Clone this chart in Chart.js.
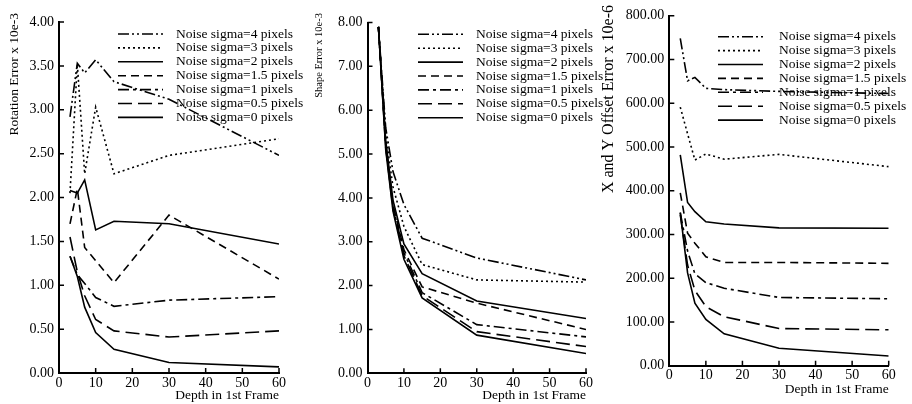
<!DOCTYPE html>
<html>
<head>
<meta charset="utf-8">
<script src="https://cdn.jsdelivr.net/npm/chart.js@4.4.1/dist/chart.umd.min.js"></script>
<style>
  html, body { margin: 0; background: #fff; }
  #wrap { position: relative; width: 912px; height: 404px; }
  #wrap canvas { position: absolute; left: 0; top: 0; }
</style>
</head>
<body>
<div id="wrap">
  <canvas id="rotation" width="912" height="404"></canvas>
  <canvas id="shape" width="912" height="404"></canvas>
  <canvas id="offset" width="912" height="404"></canvas>
</div>
<script>
const depths = [3, 5, 7, 10, 15, 30, 60];
const depthTicks = [0, 10, 20, 30, 40, 50, 60];

const sigmaLabels = [
  "Noise sigma=4 pixels",
  "Noise sigma=3 pixels",
  "Noise sigma=2 pixels",
  "Noise sigma=1.5 pixels",
  "Noise sigma=1 pixels",
  "Noise sigma=0.5 pixels",
  "Noise sigma=0 pixels",
];

// rotation error, x 10e-3
const rotationSigma4 = [2.92, 3.53, 3.42, 3.57, 3.32, 3.12, 2.48];
const rotationSigma3 = [2.05, 3.52, 2.27, 3.03, 2.27, 2.48, 2.67];
const rotationSigma2 = [2.08, 2.05, 2.2, 1.63, 1.73, 1.7, 1.47];
const rotationSigma15 = [1.7, 2.1, 1.43, 1.28, 1.03, 1.8, 1.07];
const rotationSigma1 = [1.33, 1.12, 1.02, 0.86, 0.76, 0.83, 0.87];
const rotationSigma05 = [1.55, 1.15, 0.88, 0.61, 0.48, 0.41, 0.48];
const rotationSigma0 = [1.33, 1.1, 0.75, 0.46, 0.27, 0.12, 0.07];
const rotationTicks = [0, 0.5, 1, 1.5, 2, 2.5, 3, 3.5, 4];

// shape error, x 10e-3
const shapeSigma4 = [7.9, 5.6, 4.6, 3.85, 3.08, 2.63, 2.13];
const shapeSigma3 = [7.9, 5.45, 4.25, 3.35, 2.48, 2.13, 2.08];
const shapeSigma2 = [7.9, 5.3, 3.95, 2.95, 2.27, 1.65, 1.25];
const shapeSigma15 = [7.9, 5.25, 3.85, 2.82, 1.97, 1.6, 1.0];
const shapeSigma1 = [7.9, 5.2, 3.8, 2.75, 1.84, 1.11, 0.83];
const shapeSigma05 = [7.9, 5.15, 3.75, 2.68, 1.77, 0.95, 0.61];
const shapeSigma0 = [7.9, 5.1, 3.7, 2.6, 1.72, 0.87, 0.45];
const shapeTicks = [0, 1, 2, 3, 4, 5, 6, 7, 8];

// x and y offset error, x 10e-6
const offsetSigma4 = [748, 651, 659, 634, 631, 627, 622];
const offsetSigma3 = [591, 530, 470, 484, 472, 483, 455];
const offsetSigma2 = [482, 373, 352, 329, 324, 315, 314];
const offsetSigma15 = [395, 303, 280, 249, 236, 236, 234];
const offsetSigma1 = [350, 262, 210, 190, 177, 156, 153];
const offsetSigma05 = [345, 230, 172, 135, 112, 85, 82];
const offsetSigma0 = [350, 212, 143, 106, 73, 40, 22];
const offsetTicks = [0, 100, 200, 300, 400, 500, 600, 700, 800];

// one dash pattern per noise level, same order as sigmaLabels
const DASHES = [
  [11, 3, 2, 3, 2, 3],
  [2, 3],
  [],
  [8, 5],
  [11, 4, 3, 4],
  [14, 6],
  [],
];

const FONT = "'Liberation Serif', 'Times New Roman', serif";
Chart.defaults.font.family = FONT;
Chart.defaults.color = "#000";

// small tick marks pointing into the plot
const inwardTicks = {
  id: "inwardTicks",
  afterDraw(chart) {
    const { ctx, chartArea: { left, bottom } } = chart;
    const { x, y } = chart.scales;
    ctx.save();
    ctx.strokeStyle = "#000";
    ctx.lineWidth = 1.5;
    ctx.beginPath();
    x.ticks.forEach(({ value }) => {
      if (value === x.min) return;
      const px = x.getPixelForValue(value);
      ctx.moveTo(px, bottom);
      ctx.lineTo(px, bottom - 5);
    });
    y.ticks.forEach(({ value }) => {
      if (value === y.min) return;
      const py = y.getPixelForValue(value);
      ctx.moveTo(left, py);
      ctx.lineTo(left + 5, py);
    });
    ctx.stroke();
    ctx.restore();
  },
};

// stacked key: line sample then label, one row per dataset
const lineKey = {
  id: "lineKey",
  afterDraw(chart, args, opts) {
    const { ctx } = chart;
    ctx.save();
    ctx.font = `${opts.size}px ${FONT}`;
    ctx.textBaseline = "middle";
    ctx.fillStyle = "#000";
    chart.data.datasets.forEach((ds, i) => {
      const y = opts.top + i * opts.rowHeight;
      ctx.setLineDash(ds.borderDash);
      ctx.lineWidth = ds.borderWidth;
      ctx.strokeStyle = ds.borderColor;
      ctx.beginPath();
      ctx.moveTo(opts.left, y);
      ctx.lineTo(opts.left + opts.sampleWidth, y);
      ctx.stroke();
      ctx.fillText(ds.label, opts.textLeft, y);
    });
    ctx.restore();
  },
};

// rotated y caption, anchored by its top end
const yCaption = {
  id: "yCaption",
  afterDraw(chart, args, opts) {
    const { ctx } = chart;
    ctx.save();
    ctx.translate(opts.x, opts.top);
    ctx.rotate(-Math.PI / 2);
    ctx.font = `${opts.size}px ${FONT}`;
    ctx.textAlign = "right";
    ctx.textBaseline = "middle";
    ctx.fillStyle = "#000";
    ctx.fillText(opts.text, 0, 0);
    ctx.restore();
  },
};

const makeChartConfig = ({
  series,
  yTicks,
  area,
  yWidth,
  padBottom = 0,
  caption,
  key,
}) => {
  const xHeight = 404 - area.bottom - padBottom;
  return {
    type: "line",
    data: {
      datasets: series.map((values, i) => ({
        label: sigmaLabels[i],
        data: depths.map((d, j) => ({ x: d, y: values[j] })),
        borderColor: "#000",
        borderWidth: 1.6,
        borderDash: DASHES[i],
        pointRadius: 0,
        tension: 0,
      })),
    },
    options: {
      responsive: false,
      animation: false,
      devicePixelRatio: 1,
      layout: {
        padding: {
          left: area.left - yWidth,
          top: area.top,
          right: 912 - area.right,
          bottom: padBottom,
        },
      },
      plugins: {
        legend: { display: false },
        tooltip: { enabled: false },
        yCaption: caption,
        lineKey: { sampleWidth: 45, rowHeight: 13.9, size: 13.5, ...key },
      },
      scales: {
        x: {
          type: "linear",
          min: 0,
          max: 60,
          afterBuildTicks: (scale) => {
            scale.ticks = depthTicks.map((value) => ({ value }));
          },
          afterFit: (scale) => {
            scale.height = xHeight;
          },
          grid: { display: false, drawTicks: false },
          border: { display: true, color: "#000", width: 2 },
          ticks: { font: { size: 14 }, padding: 1.5, maxRotation: 0, autoSkip: false },
          title: {
            display: true,
            text: "Depth in 1st Frame",
            align: "end",
            font: { size: 13.5 },
            padding: 0,
          },
        },
        y: {
          type: "linear",
          min: yTicks[0],
          max: yTicks[yTicks.length - 1],
          afterBuildTicks: (scale) => {
            scale.ticks = yTicks.map((value) => ({ value }));
          },
          afterFit: (scale) => {
            scale.width = yWidth;
          },
          grid: { display: false, drawTicks: false },
          border: { display: true, color: "#000", width: 2 },
          ticks: {
            font: { size: 14 },
            padding: 5,
            autoSkip: false,
            callback: (value) => value.toFixed(2),
          },
        },
      },
    },
    plugins: [inwardTicks, lineKey, yCaption],
  };
};

new Chart(
  document.getElementById("rotation"),
  makeChartConfig({
    series: [rotationSigma4, rotationSigma3, rotationSigma2, rotationSigma15,
      rotationSigma1, rotationSigma05, rotationSigma0],
    yTicks: rotationTicks,
    area: { left: 59, top: 22, right: 279, bottom: 373 },
    yWidth: 45,
    caption: { text: "Rotation Error x 10e-3", x: 14, top: 13, size: 13.5 },
    key: { left: 118, top: 34, textLeft: 176 },
  })
);

new Chart(
  document.getElementById("shape"),
  makeChartConfig({
    series: [shapeSigma4, shapeSigma3, shapeSigma2, shapeSigma15,
      shapeSigma1, shapeSigma05, shapeSigma0],
    yTicks: shapeTicks,
    area: { left: 367.5, top: 22.5, right: 586, bottom: 373.3 },
    yWidth: 45,
    caption: { text: "Shape Error x 10e-3", x: 319, top: 13, size: 10.5 },
    key: { left: 418, top: 34.3, textLeft: 476 },
  })
);

new Chart(
  document.getElementById("offset"),
  makeChartConfig({
    series: [offsetSigma4, offsetSigma3, offsetSigma2, offsetSigma15,
      offsetSigma1, offsetSigma05, offsetSigma0],
    yTicks: offsetTicks,
    area: { left: 669.3, top: 15.7, right: 888.7, bottom: 365.7 },
    yWidth: 50,
    padBottom: 6.6,
    caption: { text: "X and Y Offset Error x 10e-6", x: 609, top: 5, size: 16 },
    key: { left: 718, top: 36.7, textLeft: 779 },
  })
);
</script>
</body>
</html>
